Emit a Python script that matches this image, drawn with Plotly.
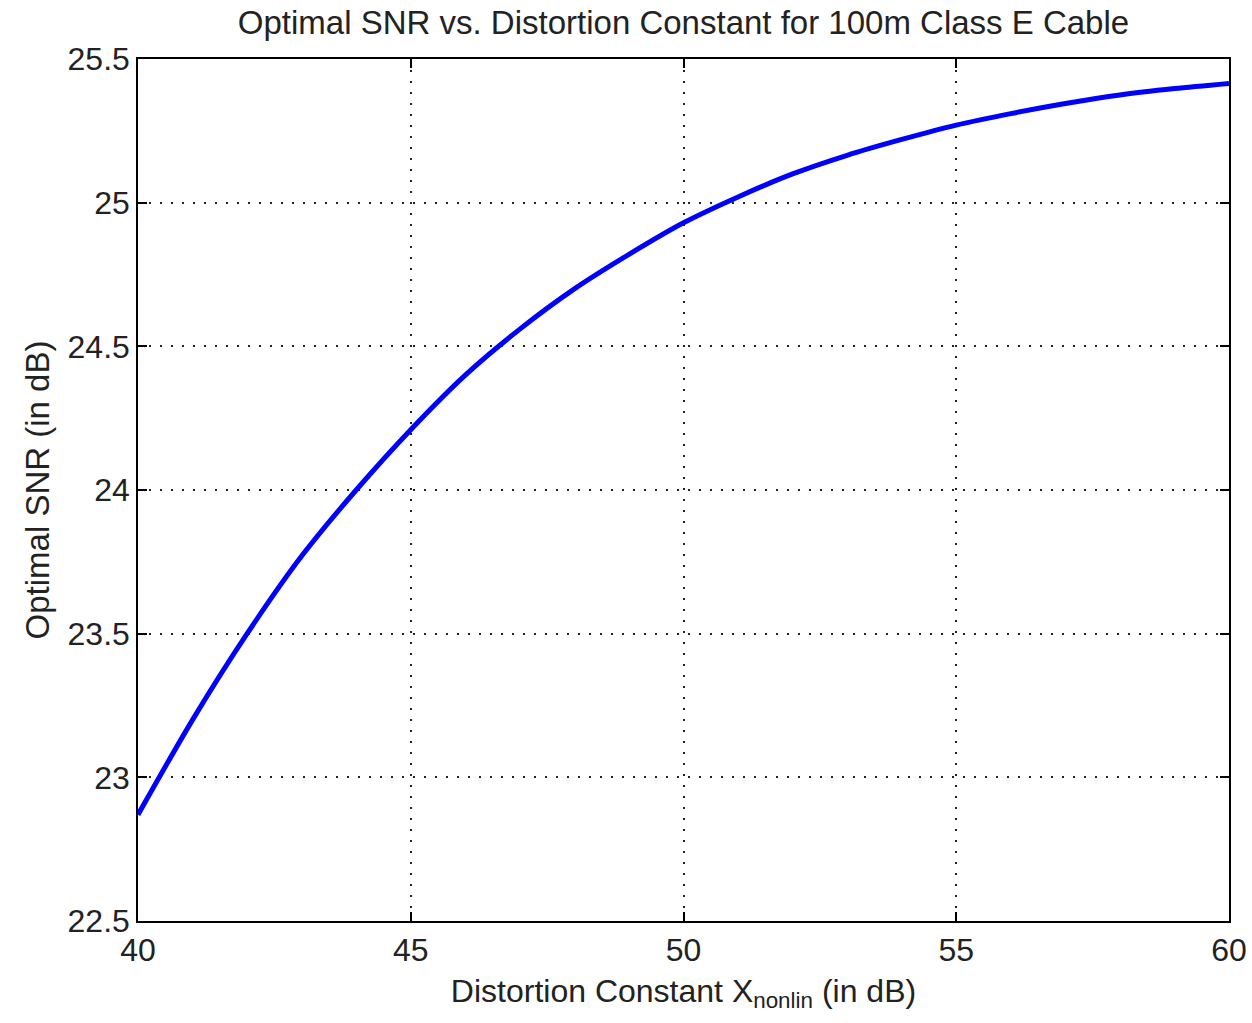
import plotly.graph_objects as go

x_vals = [40, 41, 42, 43, 44, 45, 46, 47, 48, 49, 50, 51, 52, 53, 54, 55, 56, 57, 58, 59, 60]
snr_vals = [22.87, 23.20, 23.50, 23.77, 24.00, 24.21, 24.40, 24.56, 24.70, 24.82, 24.93,
            25.02, 25.10, 25.165, 25.22, 25.27, 25.31, 25.345, 25.375, 25.397, 25.415]
x_ticks = [40, 45, 50, 55, 60]
y_ticks = [22.5, 23, 23.5, 24, 24.5, 25, 25.5]

FONT = "Liberation Sans, Arial, sans-serif"

fig = go.Figure()
fig.add_trace(go.Scatter(x=x_vals, y=snr_vals, mode="lines",
                         line=dict(color="#0000ff", width=5, shape="spline", smoothing=0.8),
                         showlegend=False))

axis_common = dict(showline=True, linecolor="black", linewidth=1.5, mirror="allticks",
                   ticks="inside", ticklen=9, tickcolor="black", tickwidth=1.5,
                   showgrid=True, gridcolor="#222222", griddash="2px,9px", gridwidth=1.5,
                   zeroline=False, automargin=False,
                   tickfont=dict(family=FONT, size=32, color="#222222"))

fig.update_layout(
    width=1252, height=1023,
    margin=dict(l=138, r=23, t=59, b=102, autoexpand=False),
    paper_bgcolor="white", plot_bgcolor="white",
    font=dict(family=FONT, color="#222222"),
    title=dict(text="Optimal SNR vs. Distortion Constant for 100m Class E Cable",
               x=0.5, xref="paper", xanchor="center", y=0.978, yanchor="middle",
               font=dict(family=FONT, size=33, color="#222222")),
    xaxis=dict(range=[40, 60], tickvals=x_ticks, ticktext=[str(v) for v in x_ticks],
               title=dict(text="Distortion Constant X<sub>nonlin</sub> (in dB)",
                          font=dict(family=FONT, size=32, color="#222222"), standoff=12),
               **axis_common),
    yaxis=dict(range=[22.5, 25.5], tickvals=y_ticks, ticktext=[str(v) for v in y_ticks],
               title=dict(text="Optimal SNR (in dB)",
                          font=dict(family=FONT, size=33, color="#222222"), standoff=8),
               **axis_common),
)

fig.write_html("out.html")
